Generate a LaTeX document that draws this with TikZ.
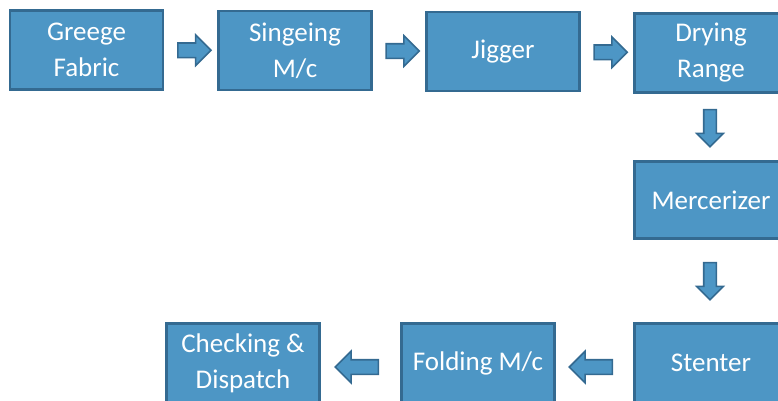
\documentclass[tikz,border=0pt]{standalone}
\usepackage{fontspec}
\setmainfont{Carlito}
\usetikzlibrary{shapes.arrows,calc}

\definecolor{boxfill}{RGB}{77,150,197}
\definecolor{boxline}{RGB}{52,106,145}

\tikzset{
  stage/.style={draw=boxline, fill=boxfill, line width=2.6pt, text=white,
    minimum width=153pt, minimum height=79pt, align=center, inner sep=0pt,
    font=\fontsize{27}{36}\selectfont},
  flow/.style={single arrow, draw=boxline, fill=boxfill, line width=1.6pt,
    inner xsep=0pt, inner ysep=6.5pt, single arrow head extend=8pt,
    minimum height=33pt}
}

\begin{document}
\begin{tikzpicture}[x=1pt, y=-1pt]
            \useasboundingbox (0,0) rectangle (778,400);
            \clip (0,0) rectangle (778,400);

            % top row
            \node[stage] (greege) at (86.5,50) {Greege\\Fabric};
            \node[stage] (singe) at (295,50.5) {Singeing\\M/c};
            \node[stage] (jigger) at (503,51.5) {Jigger};
            \node[stage] (drying) at (711,53) {Drying\\Range};

            % right column
            \node[stage, minimum height=77pt] (merc) at (711,200) {Mercerizer};
            \node[stage] (stenter) at (711,363) {Stenter};

            % bottom row
            \node[stage] (folding) at (478,363) {Folding M/c};
            \node[stage] (check) at (243,363) {Checking \&\\Dispatch};

            % block arrows
            \node[flow] at ($(greege.east)!0.5!(singe.west)$) {};
            \node[flow] at ($(singe.east)!0.5!(jigger.west)$) {};
            \node[flow] at ($(jigger.east)!0.5!(drying.west)$) {};
            \node[flow, rotate=-90, inner ysep=5.5pt, single arrow head extend=7pt, minimum height=37pt] at ($(drying.south)!0.5!(merc.north)+(-1,-2)$) {};
            \node[flow, rotate=-90, inner ysep=5.5pt, single arrow head extend=7pt, minimum height=37pt] at ($(merc.south)!0.5!(stenter.north)+(-1,-3)$) {};
            \node[flow, rotate=180, inner ysep=6.5pt, single arrow head extend=8.5pt, minimum height=43pt] at ($(stenter.west)!0.5!(folding.east)+(0,4)$) {};
            \node[flow, rotate=180, inner ysep=6.5pt, single arrow head extend=8.5pt, minimum height=43pt] at ($(folding.west)!0.5!(check.east)+(0,4)$) {};
        \end{tikzpicture}
\end{document}
